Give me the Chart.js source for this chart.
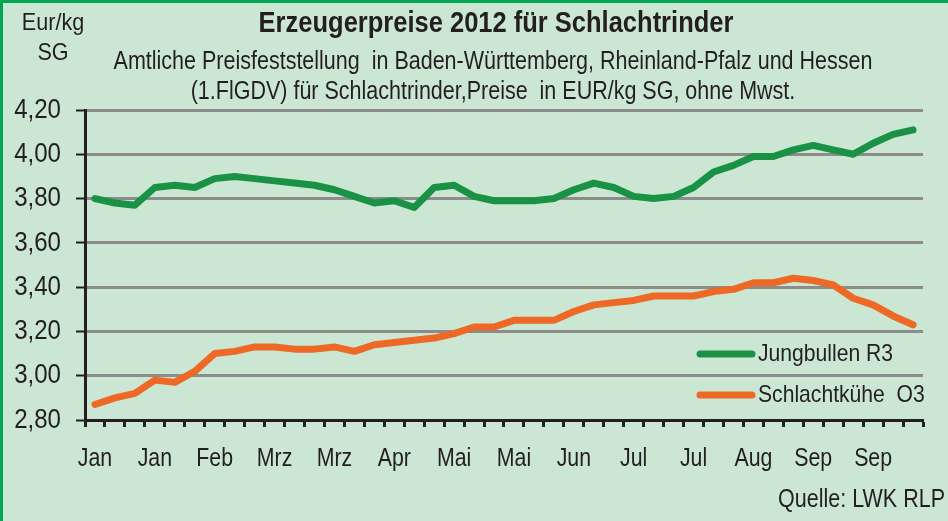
<!DOCTYPE html>
<html>
<head>
<meta charset="utf-8">
<script src="https://cdn.jsdelivr.net/npm/chart.js@4/dist/chart.umd.min.js"></script>
<style>
  html, body { margin: 0; padding: 0; background: #cce6d4; }
  canvas { display: block; }
</style>
</head>
<body>
<canvas id="chart" width="948" height="521"></canvas>
<script>
// ── Data (weekly prices 2012, EUR/kg SG) ─────────────────────
const weeks = ["KW 1", "KW 2", "KW 3", "KW 4", "KW 5", "KW 6", "KW 7", "KW 8", "KW 9", "KW 10",
               "KW 11", "KW 12", "KW 13", "KW 14", "KW 15", "KW 16", "KW 17", "KW 18", "KW 19", "KW 20",
               "KW 21", "KW 22", "KW 23", "KW 24", "KW 25", "KW 26", "KW 27", "KW 28", "KW 29", "KW 30",
               "KW 31", "KW 32", "KW 33", "KW 34", "KW 35", "KW 36", "KW 37", "KW 38", "KW 39", "KW 40",
               "KW 41", "KW 42"];

// one month label for every third week
const monthTicks = ["Jan", "Jan", "Feb", "Mrz", "Mrz", "Apr", "Mai", "Mai", "Jun", "Jul", "Jul", "Aug", "Sep", "Sep"];

const jungbullen = [3.80, 3.78, 3.77, 3.85, 3.86, 3.85, 3.89, 3.90, 3.89, 3.88,
                    3.87, 3.86, 3.84, 3.81, 3.78, 3.79, 3.76, 3.85, 3.86, 3.81,
                    3.79, 3.79, 3.79, 3.80, 3.84, 3.87, 3.85, 3.81, 3.80, 3.81,
                    3.85, 3.92, 3.95, 3.99, 3.99, 4.02, 4.04, 4.02, 4.00, 4.05,
                    4.09, 4.11];

const schlachtkuehe = [2.87, 2.90, 2.92, 2.98, 2.97, 3.02, 3.10, 3.11, 3.13, 3.13,
                       3.12, 3.12, 3.13, 3.11, 3.14, 3.15, 3.16, 3.17, 3.19, 3.22,
                       3.22, 3.25, 3.25, 3.25, 3.29, 3.32, 3.33, 3.34, 3.36, 3.36,
                       3.36, 3.38, 3.39, 3.42, 3.42, 3.44, 3.43, 3.41, 3.35, 3.32,
                       3.27, 3.23];

const FONT   = '"Liberation Sans", Arial, sans-serif';
const INK    = "#231f20";
const GREEN  = "#1a9245";
const ORANGE = "#ed6925";

// no narrow font installed → squeeze text horizontally
function narrow(c, text, x, y, align, font, sx) {
    c.save();
    c.font = font;
    c.textAlign = align;
    c.textBaseline = "middle";
    c.translate(x, y);
    c.scale(sx, 1);
    c.fillText(text, 0, 0);
    c.restore();
}

// ── Background, titles, tick labels, legend, source ──────────
const decor = {
    id: "decor",
    beforeDraw(chart) {
        const c = chart.ctx;
        c.save();
        c.fillStyle = "#cce6d4";
        c.fillRect(0, 0, chart.width, chart.height);
        c.fillStyle = "#00a651";
        c.fillRect(0, 0, chart.width, 3);
        c.fillRect(0, 0, 3, chart.height);
        c.restore();
    },
    afterDraw(chart) {
        const c = chart.ctx;
        c.save();
        c.fillStyle = INK;

        narrow(c, "Erzeugerpreise 2012 für Schlachtrinder", 496, 24, "center", "bold 30px " + FONT, 0.85);
        narrow(c, "Amtliche Preisfeststellung  in Baden-Württemberg, Rheinland-Pfalz und Hessen", 493, 62, "center", "25px " + FONT, 0.86);
        narrow(c, "(1.FlGDV) für Schlachtrinder,Preise  in EUR/kg SG, ohne Mwst.", 493, 92, "center", "25px " + FONT, 0.86);
        narrow(c, "Eur/kg", 53, 23, "center", "24px " + FONT, 0.9);
        narrow(c, "SG", 53, 53, "center", "24px " + FONT, 0.9);

        // tick labels from the library's scales
        const ys = chart.scales.y;
        ys.ticks.forEach(t => {
            narrow(c, t.value.toFixed(2).replace(".", ","), 61, ys.getPixelForValue(t.value),
                   "right", "28px " + FONT, 0.86);
        });
        const xs = chart.scales.x;
        xs.ticks.forEach((t, i) => {
            if (i % 3 === 0) narrow(c, monthTicks[i / 3], xs.getPixelForTick(i), 459, "center", "26px " + FONT, 0.82);
        });

        // legend
        c.lineCap = "round";
        c.lineWidth = 7;
        chart.data.datasets.forEach((ds, i) => {
            const y = 354 + i * 41;
            c.strokeStyle = ds.borderColor;
            c.beginPath();
            c.moveTo(700, y);
            c.lineTo(752, y);
            c.stroke();
            narrow(c, ds.label, 758, y, "left", "24px " + FONT, 0.88);
        });

        narrow(c, "Quelle: LWK RLP", 945, 500, "right", "25px " + FONT, 0.86);
        c.restore();
    }
};

new Chart(document.getElementById("chart"), {
    type: "line",
    data: {
        labels: weeks,
        datasets: [
            { label: "Jungbullen R3",    data: jungbullen,    borderColor: GREEN,  backgroundColor: GREEN },
            { label: "Schlachtkühe  O3", data: schlachtkuehe, borderColor: ORANGE, backgroundColor: ORANGE }
        ].map(d => Object.assign(d, {
            borderWidth: 7,
            pointRadius: 0,
            tension: 0,
            borderCapStyle: "round",
            borderJoinStyle: "round",
            fill: false
        }))
    },
    options: {
        responsive: false,
        animation: false,
        devicePixelRatio: 1,
        layout: { padding: { left: 0, right: 25, top: 110, bottom: 0 } },
        plugins: { legend: { display: false }, tooltip: { enabled: false } },
        scales: {
            x: {
                offset: true,
                grid: { offset: true, drawOnChartArea: false, tickLength: 7, tickWidth: 3, tickColor: INK },
                border: { color: INK, width: 3 },
                ticks: { display: false, autoSkip: false, maxRotation: 0 },
                afterFit: s => { s.height = 101; }
            },
            y: {
                min: 2.8,
                max: 4.2,
                grid: { color: "#8c8c8c", lineWidth: 3, tickColor: INK, tickLength: 9, tickWidth: 2 },
                border: { color: INK, width: 3 },
                ticks: { display: false, stepSize: 0.2 },
                afterFit: s => { s.width = 85; }
            }
        }
    },
    plugins: [decor]
});
</script>
</body>
</html>
